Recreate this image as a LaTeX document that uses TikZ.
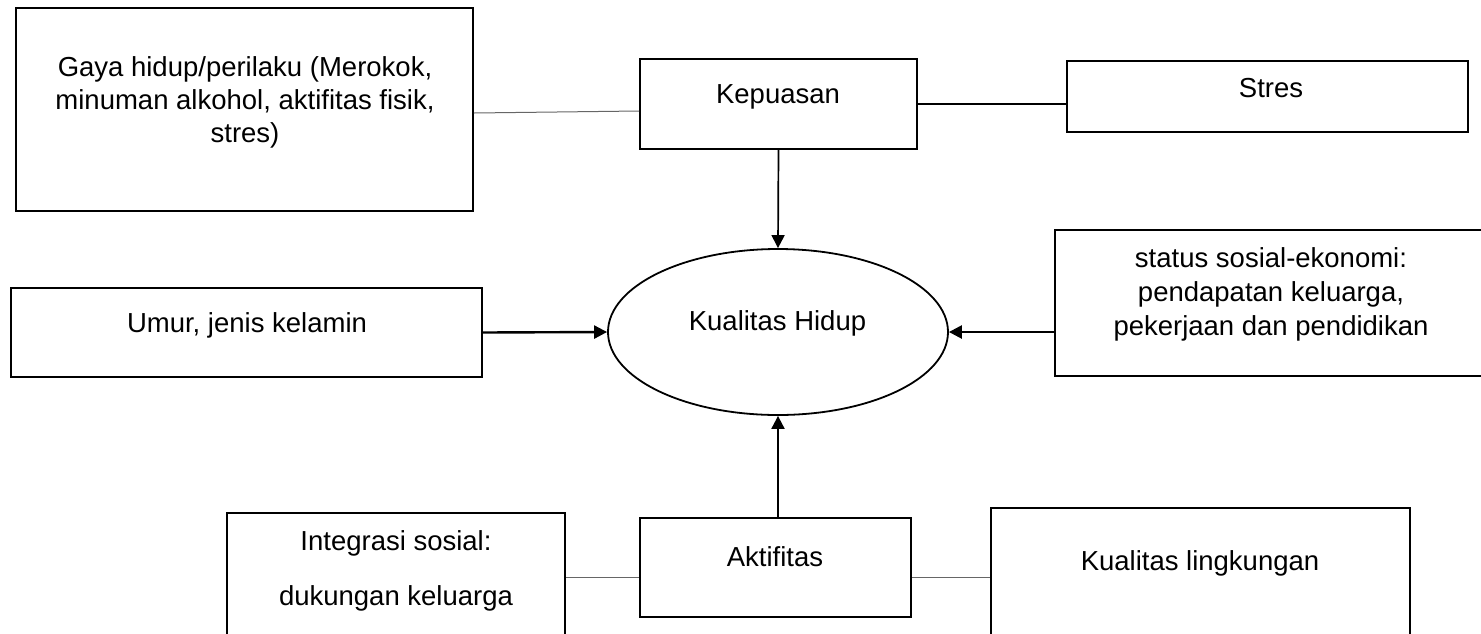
\documentclass[tikz,border=0pt]{standalone}
\usepackage{fontspec}
\setmainfont{Liberation Sans}
\usetikzlibrary{arrows.meta,shapes.geometric}
\begin{document}
\lineskiplimit=-50pt\relax
\begin{tikzpicture}[x=1pt,y=-1pt,
  box/.style={draw=black, line width=1.8pt, rectangle, inner sep=0pt},
  ell/.style={draw=black, line width=1.8pt, ellipse, inner sep=0pt},
  txt/.style={inner sep=0pt, align=center, font=\fontsize{27.5}{32}\selectfont},
  arr/.style={line width=2pt, -{Triangle[length=13pt,width=13pt]}},
  strongline/.style={line width=2pt},
  thinline/.style={line width=1pt, draw=black!60}]
\useasboundingbox (0,0) rectangle (1481,633);
\clip (0,0) rectangle (1481,633);

% boxes
\node[box, minimum width=457pt, minimum height=203pt] (gaya) at (244.5,109.5) {};
\node[box, minimum width=277pt, minimum height=90pt] (kep) at (778.5,104) {};
\node[box, minimum width=401pt, minimum height=71pt] (stres) at (1267.5,96.5) {};
\node[box, minimum width=471pt, minimum height=89pt] (umur) at (246.5,332.5) {};
\node[ell, minimum width=340pt, minimum height=166pt] (kh) at (778,332) {};
\node[box, minimum width=429pt, minimum height=146pt] (sos) at (1269.5,303) {};
\node[box, minimum width=271pt, minimum height=99pt] (akt) at (775.5,567.5) {};
\node[box, minimum width=338pt, minimum height=128pt] (integ) at (396,577) {};
\node[box, minimum width=419pt, minimum height=138pt] (kling) at (1200.5,577) {};

% texts
\node[txt, anchor=north, font=\fontsize{27.5}{33}\selectfont] (gayat) at (245,56)
  {Gaya hidup/perilaku (Merokok,\\minuman alkohol, aktifitas fisik,\\stres)};
\node[txt, anchor=base] (kept) at (778,103) {Kepuasan};
\node[txt, anchor=base] (strest) at (1271,97) {Stres};
\node[txt, anchor=base] (umurt) at (247,332) {Umur, jenis kelamin};
\node[txt, anchor=base] (kht) at (777.5,330) {Kualitas Hidup};
\node[txt, anchor=north, font=\fontsize{27.5}{34}\selectfont] (sost) at (1271,247)
  {status sosial-ekonomi:\\pendapatan keluarga,\\pekerjaan dan pendidikan};
\node[txt, anchor=base] (aktt) at (775,566) {Aktifitas};
\node[txt, anchor=north, font=\fontsize{27.5}{55}\selectfont] (integt) at (396,530)
  {Integrasi sosial:\\dukungan keluarga};
\node[txt, anchor=base] (klingt) at (1200,570) {Kualitas lingkungan};

% connectors
\draw[thinline] ([yshift=-3.5pt]gaya.east) -- ([yshift=-7pt]kep.west);
\draw[strongline] (kep.east) -- (kep.east -| stres.west);
\draw[arr, line width=1.7pt] (kep.south) -- (kh.north);
\draw[arr, line width=2.4pt] (umur.east) -- (kh.west);
\draw[arr, line width=2.4pt] (kh.east -| sos.west) -- (kh.east);
\draw[arr] (kh.south |- akt.north) -- (kh.south);
\draw[thinline] (integ.east) -- (integ.east -| akt.west);
\draw[thinline] (kling.west) -- (kling.west -| akt.east);
\end{tikzpicture}
\end{document}
